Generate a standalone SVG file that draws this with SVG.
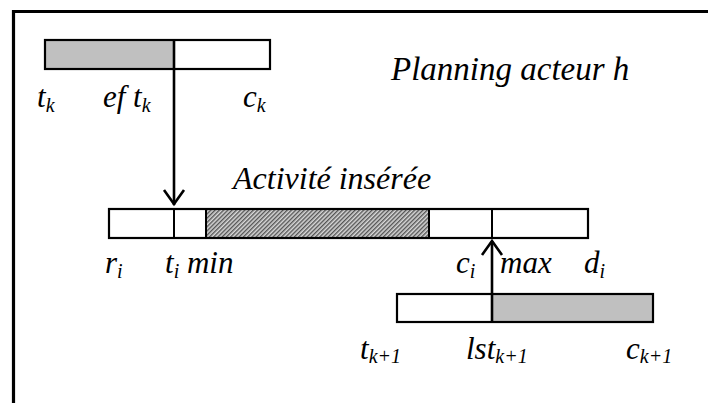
<svg xmlns="http://www.w3.org/2000/svg" width="708" height="403" viewBox="0 0 708 403">
<style>
.bar{fill:none;stroke:#000;stroke-width:2.2}
.div{stroke:#000;stroke-width:2;fill:none}
.t{font-family:"Liberation Serif","Times New Roman",serif;font-style:italic;fill:#000}
.lbl{font-size:31px}
.ttl{font-size:33px}
.sub{font-size:20px}
.conn{stroke:#000;stroke-width:2.6;fill:none}
</style>
<defs>
<pattern id="hatch" patternUnits="userSpaceOnUse" width="3" height="3" patternTransform="rotate(45)">
<rect width="3" height="3" fill="#d8d8d8"/>
<rect width="1.4" height="3" fill="#555"/>
</pattern>
</defs>
<rect width="708" height="403" fill="#fff"/>
<path d="M13.5,403 V11.5 H708" fill="none" stroke="#000" stroke-width="3.2"/>
<g id="title">
<text class="t ttl" x="391" y="80" font-size="34">Planning acteur h</text>
</g>
<g id="planning-k">
<rect x="45" y="40" width="129" height="29" fill="#c0c0c0"/>
<rect x="45" y="40" width="225" height="29" class="bar"/>
<text class="t lbl" x="37" y="107">t<tspan class="sub" dy="5">k</tspan></text>
<text class="t lbl" x="103" y="107">ef t<tspan class="sub" dy="5">k</tspan></text>
<text class="t lbl" x="243" y="107">c<tspan class="sub" dy="5">k</tspan></text>
</g>
<g id="activite">
<text class="t ttl" x="233" y="189" style="font-size:32px">Activité insérée</text>
<rect x="206" y="209" width="223" height="29" fill="url(#hatch)"/>
<rect x="109" y="209" width="479" height="29" class="bar"/>
<path class="div" d="M174,209V238M206,209V238M429,209V238M492,209V238"/>
<text class="t lbl" x="105" y="273">r<tspan class="sub" dy="5">i</tspan></text>
<text class="t lbl" x="165" y="273">t<tspan class="sub" dy="5">i</tspan><tspan dy="-5"> min</tspan></text>
<text class="t lbl" x="456" y="273">c<tspan class="sub" dy="5">i</tspan></text>
<text class="t lbl" x="500" y="273">max</text>
<text class="t lbl" x="584" y="273">d<tspan class="sub" dy="5">i</tspan></text>
</g>
<g id="planning-k1">
<rect x="492" y="294" width="161" height="28" fill="#c0c0c0"/>
<rect x="397" y="294" width="256" height="28" class="bar"/>
<text class="t lbl" x="360" y="359">t<tspan class="sub" dy="4">k+1</tspan></text>
<text class="t lbl" x="466" y="359">lst<tspan class="sub" dy="4">k+1</tspan></text>
<text class="t lbl" x="626" y="359">c<tspan class="sub" dy="4">k+1</tspan></text>
</g>
<g id="connectors">
<line class="conn" x1="174" y1="40" x2="174" y2="205"/>
<polyline class="conn" points="164,190 174,204 184,190"/>
<line class="conn" x1="492" y1="322" x2="492" y2="241"/>
<polyline class="conn" points="482,255 492,241 502,255"/>
</g>
</svg>
